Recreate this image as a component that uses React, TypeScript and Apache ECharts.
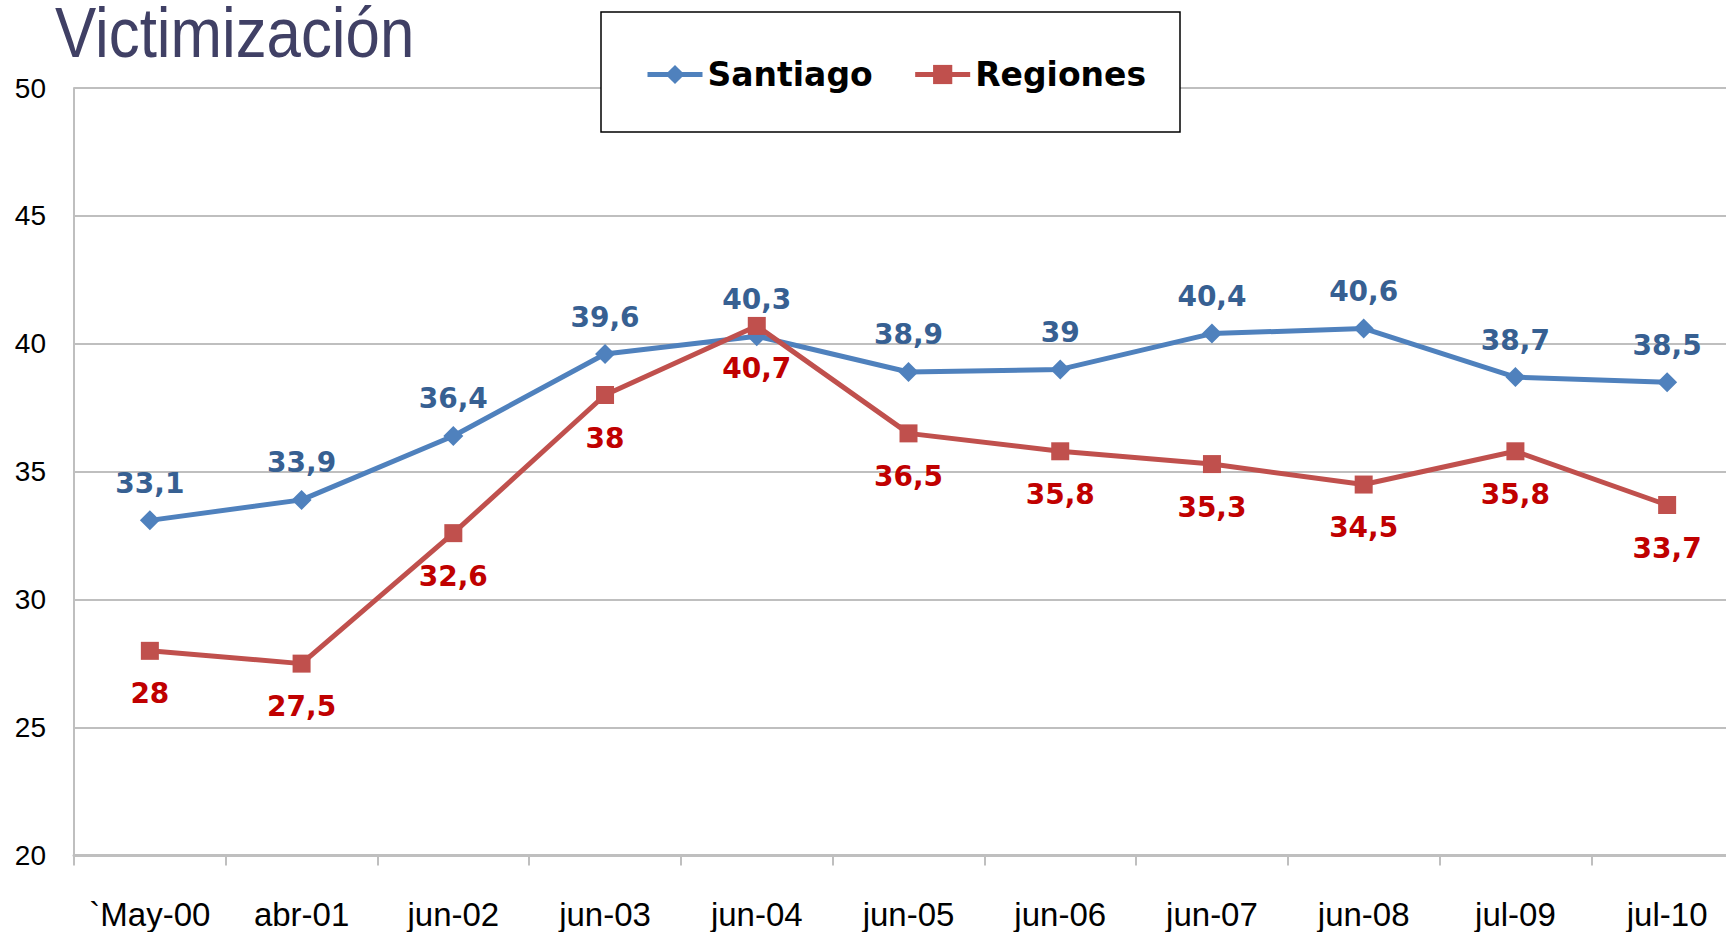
import React, { useEffect, useRef } from "react";
import * as echarts from "echarts";

const categories = ["`May-00", "abr-01", "jun-02", "jun-03", "jun-04", "jun-05", "jun-06", "jun-07", "jun-08", "jul-09", "jul-10"];
const santiago = [33.1, 33.9, 36.4, 39.6, 40.3, 38.9, 39, 40.4, 40.6, 38.7, 38.5];
const regiones = [28, 27.5, 32.6, 38, 40.7, 36.5, 35.8, 35.3, 34.5, 35.8, 33.7];
const seriesNames = ["Santiago", "Regiones"];
const titleText = "Victimización";

const fmt = (p: any) => String(p.value).replace(".", ",");

export default function App() {
  const ref = useRef<HTMLDivElement>(null);
  useEffect(() => {
    document.body.style.margin = "0";
    const chart = echarts.init(ref.current!, null, { renderer: "svg" });
    chart.setOption({
      animation: false,
      backgroundColor: "#ffffff",
      grid: { left: 74, right: 0, top: 88, bottom: 76.5 },
      graphic: [
        {
          type: "text",
          x: 55,
          y: 32,
          scaleX: 0.87,
          z: 5,
          style: {
            text: titleText,
            fontFamily: "'Liberation Sans', Arial, sans-serif",
            fontSize: 71,
            lineHeight: 60,
            fill: "#404065",
            verticalAlign: "middle",
            align: "left",
          },
        },
        {
          type: "rect",
          z: 5,
          shape: { x: 601, y: 12, width: 579, height: 120 },
          style: { fill: "#ffffff", stroke: "#000000", lineWidth: 1.5 },
        },
      ],
      legend: {
        data: seriesNames,
        left: 645,
        top: 58,
        padding: 0,
        itemWidth: 55,
        itemHeight: 24,
        itemGap: 40,
        z: 10,
        lineStyle: { width: 5 },
        textStyle: {
          fontSize: 33,
          fontWeight: "bold",
          fontFamily: "'DejaVu Sans', Verdana, sans-serif",
          color: "#000000",
        },
      },
      xAxis: {
        type: "category",
        data: categories,
        boundaryGap: true,
        axisLine: { lineStyle: { color: "#BFBFBF", width: 3 } },
        axisTick: { show: true, length: 10, lineStyle: { color: "#BFBFBF", width: 2 } },
        axisLabel: {
          margin: 42,
          fontSize: 33,
          color: "#000000",
          fontFamily: "'Liberation Sans', Arial, sans-serif",
          interval: 0,
        },
        splitLine: { show: false },
      },
      yAxis: {
        type: "value",
        min: 20,
        max: 50,
        interval: 5,
        axisLine: { show: true, lineStyle: { color: "#BFBFBF", width: 2 } },
        axisTick: { show: false },
        axisLabel: {
          margin: 28,
          fontSize: 28,
          color: "#000000",
          fontFamily: "'Liberation Sans', Arial, sans-serif",
        },
        splitLine: { show: true, lineStyle: { color: "#BFBFBF", width: 2 } },
      },
      series: [
        {
          name: seriesNames[0],
          type: "line",
          data: santiago,
          symbol: "diamond",
          symbolSize: 20,
          itemStyle: { color: "#4F81BD" },
          lineStyle: { color: "#4F81BD", width: 5 },
          label: {
            show: true,
            position: "top",
            distance: 13,
            formatter: fmt,
            color: "#376092",
            fontSize: 28,
            fontWeight: "bold",
            fontFamily: "'DejaVu Sans', Verdana, sans-serif",
          },
          z: 3,
        },
        {
          name: seriesNames[1],
          type: "line",
          data: regiones,
          symbol: "rect",
          symbolSize: 18,
          itemStyle: { color: "#C0504D" },
          lineStyle: { color: "#C0504D", width: 5 },
          label: {
            show: true,
            position: "bottom",
            distance: 20,
            formatter: fmt,
            color: "#C00000",
            fontSize: 28,
            fontWeight: "bold",
            fontFamily: "'DejaVu Sans', Verdana, sans-serif",
          },
          z: 4,
        },
      ],
    });
    return () => chart.dispose();
  }, []);
  return (
    <div style={{ width: 1726, height: 932, overflow: "hidden", position: "relative" }}>
      <div ref={ref} style={{ width: 1743, height: 932 }} />
    </div>
  );
}
